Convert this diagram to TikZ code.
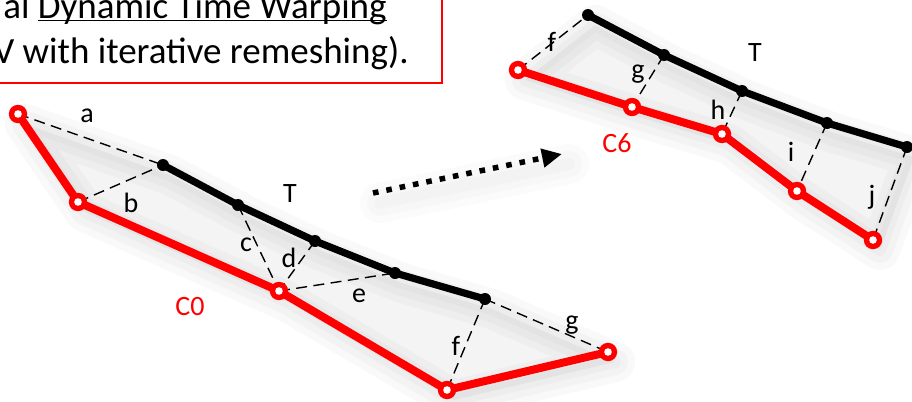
\documentclass[tikz,border=0pt]{standalone}
\usepackage{fontspec}
\setmainfont{Carlito}
\usetikzlibrary{arrows.meta}
\definecolor{curvered}{RGB}{255,0,0}
\definecolor{shadowgray}{RGB}{110,110,110}
\tikzset{
  redline/.style={curvered, line width=4pt, line join=round},
  tline/.style={black, line width=3.6pt, line join=round},
  matchline/.style={black, line width=0.7pt, dash pattern=on 5.5pt off 3.2pt},
  lbl/.style={font=\fontsize{14}{16}\selectfont, inner sep=0pt},
  titletext/.style={font=\fontsize{18.5}{22}\selectfont, inner sep=0pt},
  shade/.style={shadowgray, line join=round, line cap=round},
}
\newcommand{\redpt}[1]{\fill[curvered] (#1) circle (4.6pt); \fill[white] (#1) circle (1.9pt);}
\newcommand{\tpt}[1]{\fill[black] (#1) circle (3pt);}
\newsavebox{\ulbox}
\newcommand{\ultext}[1]{\sbox{\ulbox}{#1}\rlap{\rule[-1.6pt]{\wd\ulbox}{0.75pt}}\usebox{\ulbox}}

\begin{document}
\begin{tikzpicture}[x=0.5pt, y=-0.5pt]
  \clip (0,0) rectangle (912,402);
  \fill[white] (0,0) rectangle (912,402);

  % C0 and T (left)
  \coordinate (p1) at (18,114);
  \coordinate (p2) at (78,202);
  \coordinate (p3) at (279,291);
  \coordinate (p4) at (447,390);
  \coordinate (p5) at (608,352);
  \coordinate (t1) at (163,165);
  \coordinate (t2) at (238,205);
  \coordinate (t3) at (315,241);
  \coordinate (t4) at (395,273);
  \coordinate (t5) at (485,299);

  % C6 and T (right)
  \coordinate (q1) at (518,70);
  \coordinate (q2) at (632,107);
  \coordinate (q3) at (722,134);
  \coordinate (q4) at (797,191);
  \coordinate (q5) at (873,240);
  \coordinate (r1) at (588,15);
  \coordinate (r2) at (664,55);
  \coordinate (r3) at (742,91);
  \coordinate (r4) at (827,123);
  \coordinate (r5) at (907,147);

  \coordinate (arrS) at (373,193);
  \coordinate (arrE) at (562,154);

  % shadow
  \begin{scope}[transform canvas={shift={(3.5pt,-5pt)}}]
    \fill[shadowgray, opacity=0.07] (p1) -- (t1) -- (t2) -- (t3) -- (t4) -- (t5) -- (p5) -- (p4) -- (p3) -- (p2) -- cycle;
    \fill[shadowgray, opacity=0.07] (q1) -- (r1) -- (r2) -- (r3) -- (r4) -- (r5) -- (q5) -- (q4) -- (q3) -- (q2) -- cycle;
    \foreach \w in {20,13,6} {
      \draw[shade, line width=\w pt, opacity=0.04] (p1) -- (p2) -- (p3) -- (p4) -- (p5) -- (t5) -- (t4) -- (t3) -- (t2) -- (t1) -- cycle;
      \draw[shade, line width=\w pt, opacity=0.04] (q1) -- (q2) -- (q3) -- (q4) -- (q5) -- (r5) -- (r4) -- (r3) -- (r2) -- (r1) -- cycle;
      \draw[shade, line width=\w pt, opacity=0.025] (arrS) -- (arrE);
    }
  \end{scope}

  % title box
  \draw[curvered, line width=1pt] (-10,-10) rectangle (442,83);
  \node[titletext, anchor=base east] (ttl1) at (387,18) {al \ultext{Dynamic Time Warping}};
  \node[titletext, anchor=base east] (ttl2) at (409,63) {V with iterative remeshing).};

  % matchings
  \draw[matchline] (p1) -- (t1);
  \draw[matchline] (p2) -- (t1);
  \draw[matchline] (t2) -- (p3);
  \draw[matchline] (t3) -- (p3);
  \draw[matchline] (p3) -- (t4);
  \draw[matchline] (t5) -- (p4);
  \draw[matchline] (t5) -- (p5);
  \draw[matchline] (q1) -- (r1);
  \draw[matchline] (r2) -- (q2);
  \draw[matchline] (r3) -- (q3);
  \draw[matchline] (r4) -- (q4);
  \draw[matchline] (r5) -- (q5);

  % curves
  \draw[redline] (p1) -- (p2) -- (p3) -- (p4) -- (p5);
  \draw[tline] (t1) -- (t2) -- (t3) -- (t4) -- (t5);
  \draw[redline] (q1) -- (q2) -- (q3) -- (q4) -- (q5);
  \draw[tline] (r1) -- (r2) -- (r3) -- (r4) -- (r5);
  \foreach \p in {p1,p2,p3,p4,p5,q1,q2,q3,q4,q5} {\redpt{\p}}
  \foreach \p in {t1,t2,t3,t4,t5,r1,r2,r3,r4,r5} {\tpt{\p}}

  % dotted arrow
  \draw[line width=2.75pt, dash pattern=on 2.8pt off 4pt, -{Triangle[length=10pt, width=9pt]}] (arrS) -- (arrE);

  % labels
  \node[lbl] (la) at (87,116) {a};
  \node[lbl] (lb) at (131,203) {b};
  \node[lbl] (lc) at (246,245) {c};
  \node[lbl] (ld) at (289,258) {d};
  \node[lbl] (le) at (359,296) {e};
  \node[lbl] (lf) at (456,346) {f};
  \node[lbl] (lg) at (572,325) {g};
  \node[lbl] (lT) at (290,194) {T};
  \node[lbl, curvered] (lC0) at (190,307) {C0};
  \node[lbl] (lf2) at (552,42) {f};
  \node[lbl] (lg2) at (638,74) {g};
  \node[lbl] (lh2) at (718,110) {h};
  \node[lbl] (li2) at (791,152) {i};
  \node[lbl] (lj2) at (872,197) {j};
  \node[lbl] (lT2) at (755,53) {T};
  \node[lbl, curvered] (lC6) at (617,143) {C6};
\end{tikzpicture}
\end{document}
